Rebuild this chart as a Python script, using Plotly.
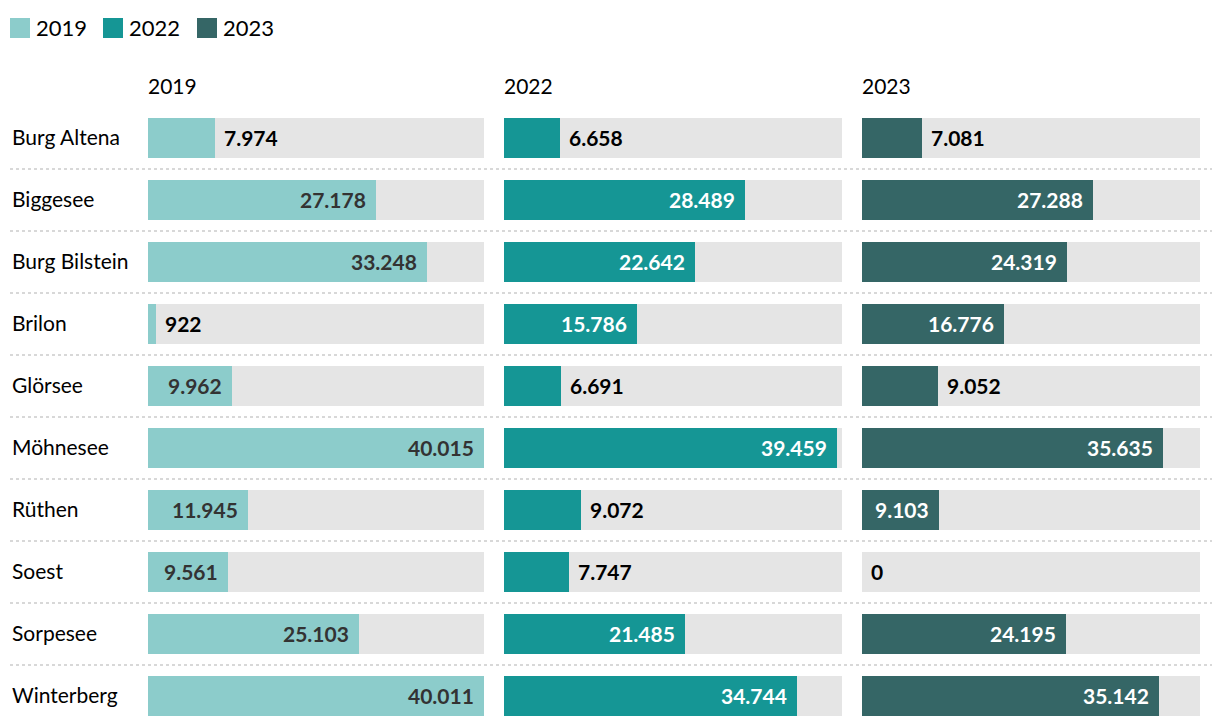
import plotly.graph_objects as go

categories = ["Burg Altena", "Biggesee", "Burg Bilstein", "Brilon", "Glörsee",
              "Möhnesee", "Rüthen", "Soest", "Sorpesee", "Winterberg"]
years = ["2019", "2022", "2023"]
values_2019 = [7974, 27178, 33248, 922, 9962, 40015, 11945, 9561, 25103, 40011]
values_2022 = [6658, 28489, 22642, 15786, 6691, 39459, 9072, 7747, 21485, 34744]
values_2023 = [7081, 27288, 24319, 16776, 9052, 35635, 9103, 0, 24195, 35142]
series = [values_2019, values_2022, values_2023]
colors = ["#8ccccb", "#159695", "#356666"]
inside_text_colors = ["#333333", "#ffffff", "#ffffff"]
XMAX = 40015
INSIDE_MIN = 9100

FONT = "Lato"
OFF = 8  # page body margin
W, H = 1220, 726
ML = 12 - OFF
MT = 107 - OFF
PLOT_RIGHT = 1200 - OFF
PLOT_BOTTOM = 727 - OFF
MR = W - PLOT_RIGHT
MB = H - PLOT_BOTTOM
PW = W - ML - MR
PH = H - MT - MB

def px_x(p):
    return (p - OFF - ML) / PW

def px_y(p):
    return (PLOT_BOTTOM - (p - OFF)) / PH

domains = [(px_x(148), px_x(484)), (px_x(504), px_x(842)), (px_x(862), px_x(1200))]

def fmt(v):
    return f"{v:,}".replace(",", ".")

fig = go.Figure()
annotations = []
shapes = []

for i, (yr, vals) in enumerate(zip(years, series)):
    xa = "x" if i == 0 else f"x{i+1}"
    fig.add_trace(go.Bar(
        y=categories, x=[XMAX] * len(categories), orientation="h",
        marker=dict(color="#e5e5e5", line=dict(width=0)),
        xaxis=xa, yaxis="y", width=0.645, showlegend=False, hoverinfo="skip"))
    fig.add_trace(go.Bar(
        y=categories, x=vals, orientation="h", name=yr,
        marker=dict(color=colors[i], line=dict(width=0)),
        xaxis=xa, yaxis="y", width=0.645, showlegend=False))
    for c, v in zip(categories, vals):
        inside = v >= INSIDE_MIN
        annotations.append(dict(
            x=v, y=c, xref=xa, yref="y", text=f"<b>{fmt(v)}</b>", showarrow=False,
            xanchor="right" if inside else "left", xshift=-8 if inside else 7, yshift=1,
            font=dict(family=FONT, size=21,
                      color=inside_text_colors[i] if inside else "#000000")))
    annotations.append(dict(
        x=domains[i][0], y=px_y(86), xref="paper", yref="paper",
        text=yr, showarrow=False, xanchor="left", yanchor="middle", xshift=-2,
        font=dict(family=FONT, size=21, color="#000000")))

for c in categories:
    annotations.append(dict(
        x=0, y=c, xref="paper", yref="y", text=c, showarrow=False,
        xanchor="left", xshift=-2, yshift=2,
        font=dict(family=FONT, size=21, color="#000000")))

for k in range(len(categories) - 1):
    shapes.append(dict(type="line", xref="paper", yref="y",
                       x0=px_x(10), x1=px_x(1212), y0=k + 0.5, y1=k + 0.5,
                       line=dict(color="#cccccc", width=1.5, dash="dot"), layer="below"))

leg_x = [10, 103, 197]
for i, yr in enumerate(years):
    x0 = leg_x[i]
    shapes.append(dict(type="rect", xref="paper", yref="paper",
                       x0=px_x(x0), x1=px_x(x0 + 20),
                       y0=px_y(38), y1=px_y(18),
                       fillcolor=colors[i], line=dict(width=0)))
    annotations.append(dict(
        x=px_x(x0 + 24), y=px_y(28), xref="paper", yref="paper",
        text=yr, showarrow=False, xanchor="left", yanchor="middle",
        font=dict(family=FONT, size=22, color="#000000")))

layout_axes = {}
for i in range(3):
    key = "xaxis" if i == 0 else f"xaxis{i+1}"
    layout_axes[key] = dict(domain=list(domains[i]), range=[0, XMAX],
                            showgrid=False, zeroline=False, showticklabels=False,
                            fixedrange=True, anchor="y")

fig.update_layout(
    width=W, height=H, margin=dict(l=ML, r=MR, t=MT, b=MB),
    paper_bgcolor="white", plot_bgcolor="white",
    barmode="overlay", bargap=0,
    yaxis=dict(categoryorder="array", categoryarray=categories,
               range=[len(categories) - 0.5, -0.5], showticklabels=False,
               showgrid=False, zeroline=False, fixedrange=True),
    annotations=annotations, shapes=shapes,
    font=dict(family=FONT), showlegend=False,
    **layout_axes)

fig.write_html("out.html")
